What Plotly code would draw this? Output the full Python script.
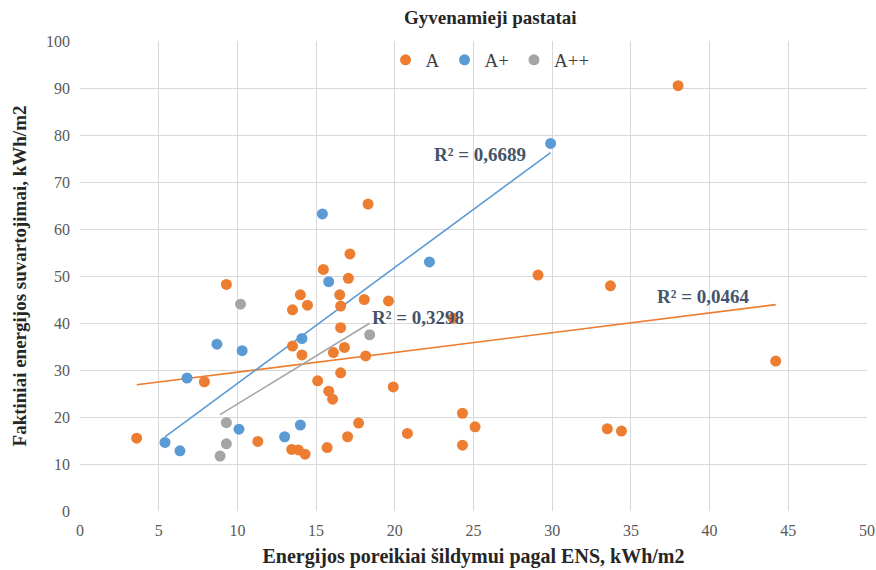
import numpy as np
import plotly.graph_objects as go

# Energy class A buildings
a_x = [3.6, 7.9, 9.3, 11.3, 13.5, 14.0, 14.45, 13.5, 14.1, 15.1, 15.8, 16.05,
       15.46, 17.15, 17.05, 16.5, 16.56, 16.56, 16.1, 16.8, 16.56, 18.06, 18.15,
       19.6, 19.9, 17.7, 17.0, 15.7, 13.45, 13.87, 14.3, 20.8, 24.3, 24.3, 25.1,
       23.7, 18.3, 44.2, 33.5, 34.4, 33.7, 29.1, 38.0]
a_y = [15.5, 27.5, 48.2, 14.8, 42.8, 46.0, 43.8, 35.1, 33.2, 27.7, 25.5, 23.8,
       51.4, 54.7, 49.5, 46.0, 43.6, 39.0, 33.7, 34.8, 29.4, 45.0, 33.0,
       44.7, 26.4, 18.7, 15.8, 13.5, 13.1, 13.0, 12.1, 16.5, 20.8, 14.0, 17.9,
       41.0, 65.3, 31.9, 17.5, 17.0, 47.9, 50.2, 90.5]

# Energy class A+ buildings
ap_x = [5.4, 6.35, 6.8, 8.7, 10.3, 10.1, 13.0, 14.0, 14.1, 15.8, 22.2, 15.4, 29.9]
ap_y = [14.6, 12.8, 28.3, 35.5, 34.1, 17.4, 15.8, 18.3, 36.7, 48.8, 53.0, 63.2, 78.2]

# Energy class A++ buildings
app_x = [8.9, 9.3, 9.3, 10.2, 18.4]
app_y = [11.7, 14.3, 18.8, 44.0, 37.5]

series_names = ["A", "A+", "A++"]
series_colors = ["#ED7D31", "#5B9BD5", "#A5A5A5"]
r2_labels = ["R² = 0,0464", "R² = 0,6689", "R² = 0,3298"]
r2_pos = [(39.6, 45.6), (25.4, 75.8), (21.5, 41.2)]

x_ticks = [0, 5, 10, 15, 20, 25, 30, 35, 40, 45, 50]
y_ticks = [0, 10, 20, 30, 40, 50, 60, 70, 80, 90, 100]

SERIF = "Liberation Serif, Times New Roman, serif"

fig = go.Figure()
data = [(a_x, a_y), (ap_x, ap_y), (app_x, app_y)]

# linear trend lines drawn under the points
for (xs, ys), color in zip(data, series_colors):
    k, b = np.polyfit(xs, ys, 1)
    xr = np.array([min(xs), max(xs)])
    fig.add_trace(go.Scatter(x=xr, y=k * xr + b, mode="lines",
                             line=dict(color=color, width=1.6),
                             showlegend=False, hoverinfo="skip"))

for (xs, ys), name, color in zip(data, series_names, series_colors):
    fig.add_trace(go.Scatter(x=xs, y=ys, mode="markers", name=name,
                             marker=dict(color=color, size=11, line=dict(width=0))))

for text, (tx, ty) in zip(r2_labels, r2_pos):
    fig.add_annotation(x=tx, y=ty, text=f"<b>{text}</b>", showarrow=False,
                       font=dict(family=SERIF, size=19, color="#44546A"))

# chart title
fig.add_annotation(xref="paper", yref="paper", x=0.522, y=1.049,
                   xanchor="center", yanchor="middle", showarrow=False,
                   text="<b>Gyvenamieji pastatai</b>",
                   font=dict(family=SERIF, size=19, color="#262626"))

fig.update_layout(
    width=876, height=570,
    margin=dict(l=80, r=9, t=41, b=59, autoexpand=False),
    paper_bgcolor="white", plot_bgcolor="white",
    font=dict(family=SERIF, color="#595959"),
    legend=dict(orientation="h", x=0.521, xanchor="center", y=1.0, yanchor="top",
                bgcolor="rgba(255,255,255,0)", itemwidth=30,
                font=dict(family=SERIF, size=19, color="#404040")),
    xaxis=dict(range=[0, 50], tickvals=x_ticks, showgrid=True, gridcolor="#D9D9D9",
               gridwidth=1, zeroline=False, showline=False, ticks="",
               automargin=False,
               tickfont=dict(family=SERIF, size=16, color="#595959"),
               ticklabelstandoff=8,
               title=dict(text="<b>Energijos poreikiai šildymui pagal ENS, kWh/m2</b>",
                          font=dict(family=SERIF, size=20, color="#262626"),
                          standoff=10)),
    yaxis=dict(range=[0, 100], tickvals=y_ticks, showgrid=True, gridcolor="#D9D9D9",
               gridwidth=1, zeroline=False, showline=False, ticks="",
               automargin=False,
               tickfont=dict(family=SERIF, size=16, color="#595959"),
               ticklabelstandoff=9,
               title=dict(text="<b>Faktiniai energijos suvartojimai, kWh/m2</b>",
                          font=dict(family=SERIF, size=19, color="#262626"),
                          standoff=14)),
)

fig.write_html("out.html")
